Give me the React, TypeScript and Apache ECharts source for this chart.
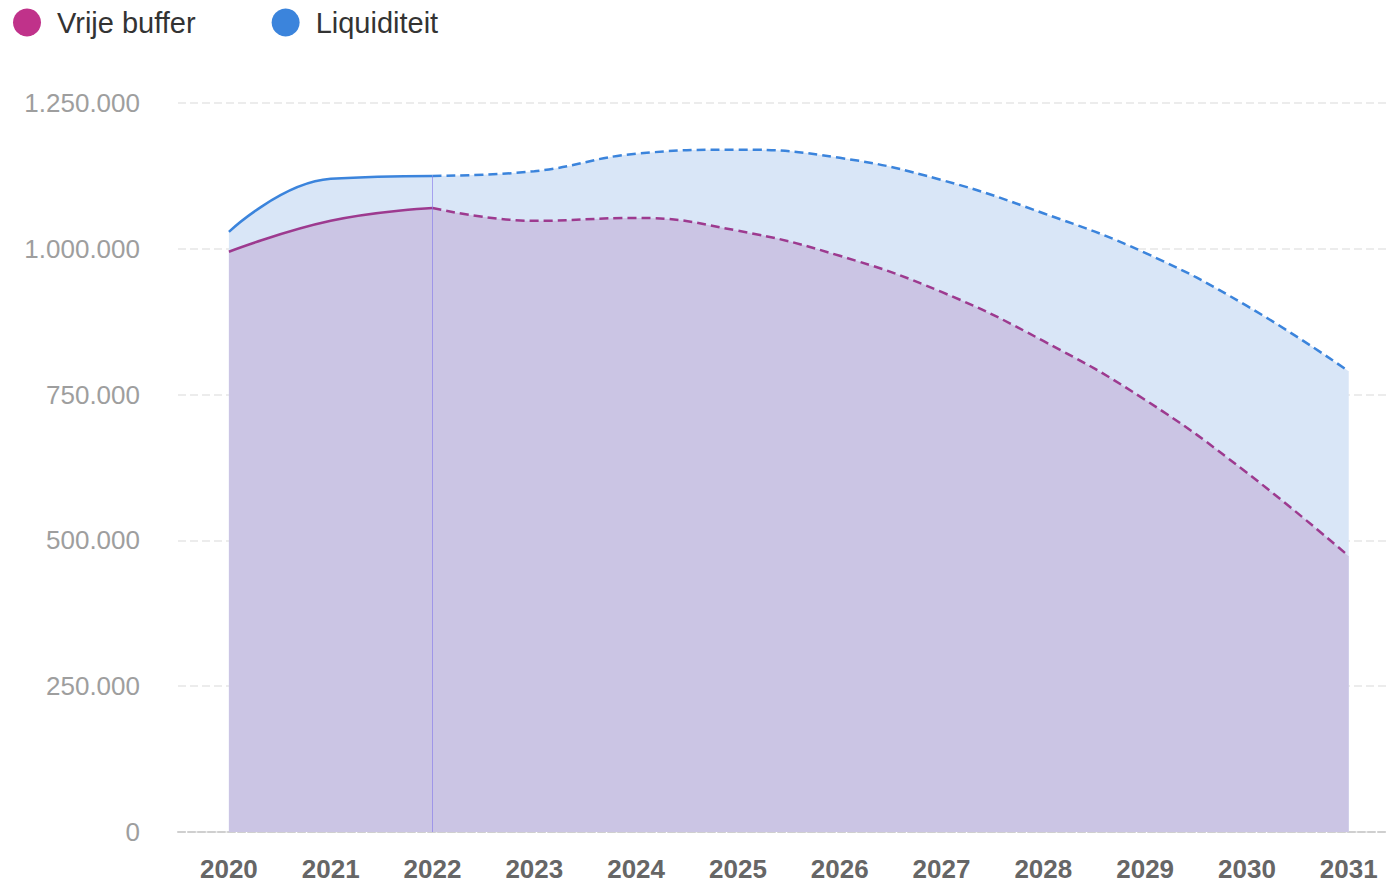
import React, { useEffect, useRef } from "react";
import * as echarts from "echarts";

const years = [2020, 2021, 2022, 2023, 2024, 2025, 2026, 2027, 2028, 2029, 2030, 2031];
const bufferValues = [995000, 1048000, 1070000, 1048000, 1053000, 1031000, 988000, 926000, 842000, 741000, 616000, 473000];
const liquidityValues = [1029000, 1120000, 1125000, 1133000, 1163000, 1170000, 1156000, 1118000, 1061000, 993000, 902000, 790000];
const actualCount = 3; // 2020..2022 solid, then forecast dashed
const yTicks = [0, 250000, 500000, 750000, 1000000, 1250000];

const BUFFER_LEGEND = "#c0328a";
const BUFFER_LINE = "#9d3a8f";
const BUFFER_AREA = "#cbc5e4";
const LIQ_COLOR = "#3b84dc";
const LIQ_AREA = "#d9e6f7";

function split(values: number[]) {
  const pairs = values.map((v, i) => [years[i], v]);
  return {
    actual: pairs.slice(0, actualCount),
    forecast: pairs.slice(actualCount - 1),
  };
}

function fmt(v: number) {
  return String(Math.round(v)).replace(/\B(?=(\d{3})+(?!\d))/g, ".");
}

export default function App() {
  const ref = useRef<HTMLDivElement>(null);
  useEffect(() => {
    if (!ref.current) return;
    const chart = echarts.init(ref.current, null, { renderer: "svg" });
    const b = split(bufferValues);
    const l = split(liquidityValues);
    const font = "'Liberation Sans', Arial, Helvetica, sans-serif";
    const smooth = 0.45;
    const dash = [9, 5];
    chart.setOption({
      animation: false,
      textStyle: { fontFamily: font },
      legend: {
        data: ["Vrije buffer", "Liquiditeit"],
        left: 8,
        top: 3,
        icon: "circle",
        itemWidth: 50,
        itemHeight: 28,
        itemGap: 76,
        textStyle: { fontSize: 29, color: "#333", fontFamily: font },
      },
      grid: { left: 178, top: 103, bottom: 51, right: 0 },
      xAxis: {
        type: "value",
        min: 2019.5,
        max: 2031.366,
        axisLine: { show: true, lineStyle: { color: "#cfcfcf", width: 2, type: [7, 3] } },
        axisTick: { show: false },
        splitLine: { show: false },
        axisLabel: {
          customValues: years,
          formatter: (v: number) => String(v),
          fontSize: 26,
          fontWeight: "bold",
          color: "#666",
          margin: 24,
          fontFamily: font,
        },
      },
      yAxis: {
        type: "value",
        min: yTicks[0],
        max: yTicks[yTicks.length - 1],
        interval: 250000,
        axisLine: { show: false },
        axisTick: { show: false },
        axisLabel: { fontSize: 26, color: "#9e9e9e", margin: 38, formatter: (v: number) => fmt(v), fontFamily: font },
        splitLine: { show: true, lineStyle: { color: "#ececec", width: 2, type: [8, 4] } },
      },
      series: [
        {
          name: "Liquiditeit",
          type: "line",
          data: l.actual,
          smooth,
          showSymbol: false,
          itemStyle: { color: LIQ_COLOR },
          lineStyle: { color: LIQ_COLOR, width: 2.5 },
          areaStyle: { color: LIQ_AREA, opacity: 1 },
          z: 2,
        },
        {
          name: "Liquiditeit",
          type: "line",
          data: l.forecast,
          smooth,
          showSymbol: false,
          itemStyle: { color: LIQ_COLOR },
          lineStyle: { color: LIQ_COLOR, width: 2.5, type: dash },
          areaStyle: { color: LIQ_AREA, opacity: 1 },
          z: 2,
        },
        {
          name: "Vrije buffer",
          type: "line",
          data: b.actual,
          smooth,
          showSymbol: false,
          itemStyle: { color: BUFFER_LEGEND },
          lineStyle: { color: BUFFER_LINE, width: 2.5 },
          areaStyle: { color: BUFFER_AREA, opacity: 1 },
          z: 3,
        },
        {
          name: "Vrije buffer",
          type: "line",
          data: b.forecast,
          smooth,
          showSymbol: false,
          itemStyle: { color: BUFFER_LEGEND },
          lineStyle: { color: BUFFER_LINE, width: 2.5, type: dash },
          areaStyle: { color: BUFFER_AREA, opacity: 1 },
          z: 3,
          markLine: {
            silent: true,
            symbol: "none",
            label: { show: false },
            lineStyle: { color: "rgba(125,112,232,0.6)", width: 1, type: "solid" },
            data: [[{ coord: [years[actualCount - 1], 0] }, { coord: [years[actualCount - 1], liquidityValues[actualCount - 1]] }]],
          },
        },
      ],
    });
    return () => chart.dispose();
  }, []);
  return <div ref={ref} style={{ position: "absolute", left: 0, top: 0, width: 1386, height: 883 }} />;
}
